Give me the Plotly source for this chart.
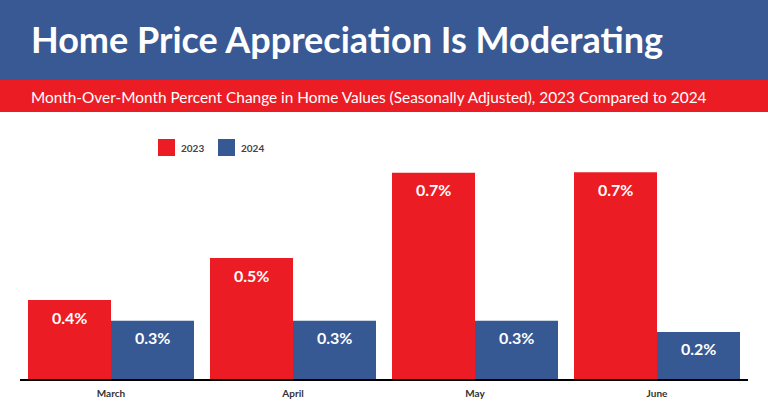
import plotly.graph_objects as go

months = ["March", "April", "May", "June"]
series_names = ["2023", "2024"]
# bar heights as drawn in the picture (not strictly proportional to labels)
heights_2023 = [0.406, 0.622, 1.061, 1.064]
heights_2024 = [0.300, 0.300, 0.300, 0.242]
labels_2023 = ["0.4%", "0.5%", "0.7%", "0.7%"]
labels_2024 = ["0.3%", "0.3%", "0.3%", "0.2%"]

RED = "#EC1C24"
BLUE = "#365893"
HEADER_BLUE = "#385993"
W, H = 768, 413
FONT = "Lato"

fig = go.Figure()
fig.add_trace(go.Bar(x=months, y=heights_2023, name=series_names[0],
                     marker=dict(color=RED, line=dict(width=0))))
fig.add_trace(go.Bar(x=months, y=heights_2024, name=series_names[1],
                     marker=dict(color=BLUE, line=dict(width=0))))

bargap = 16 / 182
bar_w = (1 - bargap) / 2
annotations = []
for i, (lab_a, lab_b) in enumerate(zip(labels_2023, labels_2024)):
    for lab, h, off in ((lab_a, heights_2023[i], -bar_w / 2), (lab_b, heights_2024[i], bar_w / 2)):
        annotations.append(dict(x=i + off, y=h, xref="x", yref="y", text=lab,
                                showarrow=False, yanchor="middle", yshift=-17,
                                font=dict(family=FONT, size=16, color="white", weight="bold")))

# header texts
annotations.append(dict(x=29 / W, y=1 - 39 / H, xref="paper", yref="paper", xanchor="left",
                        yanchor="middle", showarrow=False,
                        text="Home Price Appreciation Is Moderating",
                        font=dict(family=FONT, size=36, color="white", weight="bold")))
annotations.append(dict(x=29 / W, y=1 - 97 / H, xref="paper", yref="paper", xanchor="left",
                        yanchor="middle", showarrow=False,
                        text="Month-Over-Month Percent Change in Home Values (Seasonally Adjusted), 2023 Compared to 2024",
                        font=dict(family=FONT, size=15.4, color="white")))

shapes = [
    dict(type="rect", xref="paper", yref="paper", x0=0, x1=1, y0=1 - 80 / H, y1=1,
         fillcolor=HEADER_BLUE, line=dict(width=0), layer="below"),
    dict(type="rect", xref="paper", yref="paper", x0=0, x1=1, y0=1 - 112 / H, y1=1 - 80 / H,
         fillcolor=RED, line=dict(width=0), layer="below"),
]
# custom legend
for name, col, x0 in ((series_names[0], RED, 158), (series_names[1], BLUE, 218)):
    shapes.append(dict(type="rect", xref="paper", yref="paper", x0=x0 / W, x1=(x0 + 17) / W,
                       y0=1 - 156 / H, y1=1 - 139 / H, fillcolor=col, line=dict(width=0)))
    annotations.append(dict(x=(x0 + 21) / W, y=1 - 147.5 / H, xref="paper", yref="paper",
                            xanchor="left", yanchor="middle", showarrow=False, text=name,
                            font=dict(family=FONT, size=10, color="#444444", weight="bold")))

y_bottom_px, y_top_px = 379, 130
scale = 194.4
fig.update_layout(
    width=W, height=H, margin=dict(l=0, r=0, t=0, b=0),
    paper_bgcolor="white", plot_bgcolor="white",
    barmode="group", bargap=bargap, bargroupgap=0,
    showlegend=False,
    shapes=shapes, annotations=annotations,
    xaxis=dict(domain=[20 / W, 748 / W], showline=True, linecolor="black", linewidth=2,
               ticks="", showgrid=False, zeroline=False, ticklabelstandoff=4,
               tickfont=dict(family=FONT, size=10, color="#333333", weight="bold")),
    yaxis=dict(domain=[(H - y_bottom_px) / H, (H - y_top_px) / H],
               range=[0, (y_bottom_px - y_top_px) / scale],
               visible=False, showgrid=False, zeroline=False),
)
fig.write_html("out.html")
